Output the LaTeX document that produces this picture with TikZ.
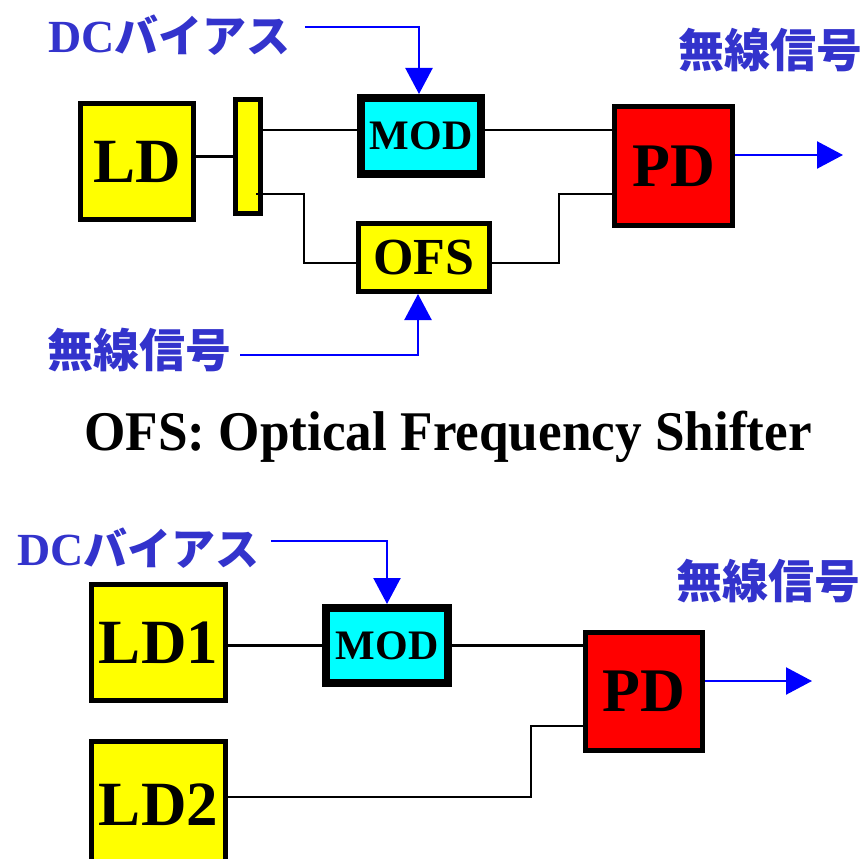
\documentclass[tikz,border=0pt]{standalone}
\usepackage{fontspec}
\setmainfont{Liberation Serif}
\newfontfamily\jpfont{Noto Sans CJK JP}
\usepackage{tikz}
\usetikzlibrary{positioning,arrows.meta}

\definecolor{sigblue}{RGB}{0,0,255}
\definecolor{txtblue}{RGB}{51,51,204}
\definecolor{ldyellow}{RGB}{255,255,0}
\definecolor{modcyan}{RGB}{0,255,255}
\definecolor{pdred}{RGB}{255,0,0}

% text in the blue labels
\newcommand{\jpbf}[1]{{\jpfont\bfseries #1}}

\begin{document}
\begin{tikzpicture}[
  x=1pt, y=-1pt,
  blk/.style={draw, line width=5pt, inner sep=0pt, font=\bfseries\fontsize{63}{63}\selectfont},
  ldbox/.style={blk, fill=ldyellow, minimum width=113pt, minimum height=116pt},
  modbox/.style={blk, fill=modcyan, line width=8pt, minimum width=120pt, minimum height=76pt, font=\bfseries\fontsize{42}{42}\selectfont},
  pdbox/.style={blk, fill=pdred, minimum width=118pt, minimum height=119pt, font=\bfseries\fontsize{62}{62}\selectfont},
  lbl/.style={text=txtblue, inner sep=0pt, font=\fontsize{46}{46}\selectfont},
  wire/.style={line width=2.8pt},
  sig/.style={draw=sigblue, line width=2.3pt, -{Triangle[length=26pt,width=27pt]}}
]
\clip (0,0) rectangle (865,859);

% ---- upper system ----
\node[ldbox] (ld) at (137,161.5) {LD};
\node[blk, fill=ldyellow, minimum width=25pt, minimum height=114pt] (split) at (248,156.5) {};
\node[modbox] (mod) at (421,136) {MOD};
\node[blk, fill=ldyellow, minimum width=131pt, minimum height=68pt, font=\bfseries\fontsize{52}{52}\selectfont] (ofs) at (424,257.5) {OFS};
\node[pdbox] (pd) at (673.5,166) {PD};

\node[lbl, anchor=west] (dc) at (48,35) {\textbf{DC}{\fontsize{44}{44}\selectfont\jpbf{バイアス}}};
\node[lbl, anchor=west] (rfin) at (47,350) {\jpbf{無線信号}};
\node[lbl, anchor=east] (rfout) at (863,50) {\jpbf{無線信号}};

\coordinate (tapb) at (256,194);
\coordinate (bendl) at (304,263);
\coordinate (bendr) at (559,263);
\coordinate (outa) at (843,155);

\draw[wire] (ld.east |- split.west) -- (split.west);
\draw[wire] ([yshift=6pt]mod.west -| split.east) -- ([yshift=6pt]mod.west);
\draw[wire] ([yshift=6pt]mod.east) -- ([yshift=6pt]mod.east -| pd.west);
\draw[wire] (tapb) -| (bendl) -- (bendl -| ofs.west);
\draw[wire] (ofs.east |- bendr) -- (bendr) |- ([yshift=-28pt]pd.west);

\draw[sig] ([xshift=14pt,yshift=8pt]dc.east) -| ([xshift=-2pt]mod.north);
\draw[sig] ([xshift=9pt,yshift=-5pt]rfin.east) -| ([xshift=-6pt]ofs.south);
\draw[sig] (pd.east |- outa) -- (outa);

% ---- caption ----
\node[font=\bfseries\fontsize{56}{56}\selectfont] (cap) at (448,437) {\scalebox{0.95}[1]{OFS: Optical Frequency Shifter}};

% ---- lower system ----
\node[ldbox, minimum width=134pt] (ldA) at (158.5,642.5) {LD1};
\node[ldbox, minimum width=134pt, minimum height=126pt] (ldB) at (158.5,804.5) {LD2};
\node[modbox, minimum width=122pt, minimum height=75pt] (modB) at (387,645.5) {MOD};
\node[pdbox, minimum width=117pt, minimum height=118pt] (pdB) at (644,691.5) {PD};

\node[lbl, anchor=west] (dcB) at (17,548) {\textbf{DC}{\fontsize{44}{44}\selectfont\jpbf{バイアス}}};
\node[lbl, anchor=east] (rfoutB) at (861,581) {\jpbf{無線信号}};

\coordinate (bendB) at (531,797);
\coordinate (outb) at (812,681);

\draw[wire] (ldA.east |- modB.west) -- (modB.west);
\draw[wire] (modB.east) -- (modB.east -| pdB.west);
\draw[wire] (ldB.east |- bendB) -- (bendB) |- ([yshift=-34.5pt]pdB.west);

\draw[sig] ([xshift=11pt,yshift=7pt]dcB.east) -| (modB.north);
\draw[sig] (pdB.east |- outb) -- (outb);
\end{tikzpicture}
\end{document}
